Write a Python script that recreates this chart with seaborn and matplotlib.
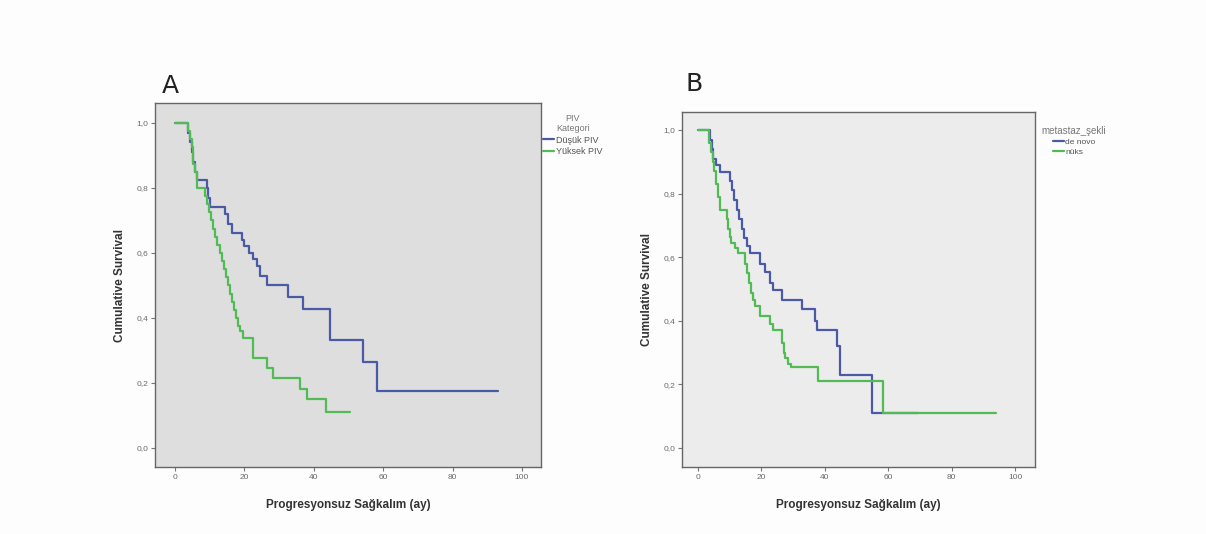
import numpy as np
import pandas as pd
import matplotlib
matplotlib.use("Agg")
import matplotlib.pyplot as plt
import seaborn as sns
from matplotlib.ticker import FuncFormatter

# ---------------- data ----------------
# Panel A: PIV Kategori
a_low_t = [0, 3.8, 4.3, 4.8, 5.3, 5.8, 6.3, 9.1, 9.6, 10.1, 14.4, 15.2, 16.5, 19.2, 20.0,
           21.3, 22.5, 23.5, 24.5, 26.4, 32.5, 37.0, 44.6, 54.3, 58.3, 93.2]
a_low_s = [1.0, 0.97, 0.94, 0.91, 0.88, 0.85, 0.825, 0.80, 0.77, 0.743, 0.72, 0.69, 0.66, 0.64, 0.62,
           0.60, 0.58, 0.56, 0.53, 0.50, 0.466, 0.427, 0.332, 0.266, 0.176, 0.176]
a_high_t = [0, 3.8, 4.3, 4.8, 5.3, 5.8, 6.3, 8.5, 9.2, 9.8, 10.4, 11.0, 11.6, 12.2, 12.8, 13.4,
            14.0, 14.6, 15.2, 15.8, 16.4, 17.0, 17.6, 18.2, 18.8, 19.6, 22.5, 26.4, 28.3, 36.0,
            37.9, 43.6, 50.3]
a_high_s = [1.0, 0.975, 0.95, 0.925, 0.875, 0.85, 0.80, 0.775, 0.75, 0.725, 0.70, 0.675, 0.65,
            0.625, 0.60, 0.575, 0.55, 0.525, 0.50, 0.475, 0.45, 0.425, 0.40, 0.375, 0.36, 0.337,
            0.277, 0.245, 0.214, 0.18, 0.15, 0.112, 0.112]

# Panel B: metastaz_şekli
b_denovo_t = [0, 3.8, 4.3, 4.8, 5.6, 6.9, 10.1, 10.8, 11.5, 12.2, 13.0, 13.8, 14.6, 15.5, 16.4,
              19.6, 21.1, 22.7, 23.7, 26.4, 32.7, 37.0, 37.4, 43.7, 44.8, 54.8, 69.5]
b_denovo_s = [1.0, 0.97, 0.94, 0.91, 0.89, 0.869, 0.84, 0.81, 0.78, 0.75, 0.72, 0.69, 0.66, 0.635,
              0.612, 0.58, 0.554, 0.52, 0.497, 0.465, 0.436, 0.40, 0.371, 0.32, 0.23, 0.111, 0.111]
b_nuks_t = [0, 3.6, 4.1, 4.6, 5.0, 5.6, 6.2, 6.8, 9.2, 9.6, 10.0, 10.5, 11.6, 12.6, 14.8, 15.4,
            16.0, 16.6, 17.3, 18.0, 19.6, 22.7, 23.7, 26.5, 27.0, 27.5, 28.5, 29.2, 37.9, 58.4, 94.0]
b_nuks_s = [1.0, 0.96, 0.93, 0.90, 0.87, 0.83, 0.79, 0.75, 0.72, 0.69, 0.665, 0.646, 0.63, 0.612,
            0.58, 0.55, 0.52, 0.487, 0.465, 0.445, 0.414, 0.39, 0.371, 0.33, 0.30, 0.283, 0.265,
            0.256, 0.211, 0.109, 0.109]

a_groups = ["Düşük PIV", "Yüksek PIV"]
b_groups = ["de novo", "nüks"]
a_legend_title = "PIV\nKategori"
b_legend_title = "metastaz_şekli"
x_label = "Progresyonsuz Sağkalım (ay)"
y_label = "Cumulative Survival"
x_ticks = [0, 20, 40, 60, 80, 100]
y_ticks = [0.0, 0.2, 0.4, 0.6, 0.8, 1.0]

# ---------------- styling ----------------
sns.set_theme(style="white")
plt.rcParams["font.family"] = ["Liberation Sans", "DejaVu Sans"]

BLUE = "#4a5aa6"
GREEN = "#52bb55"
TICK_GRAY = "#6a6a6a"

fig = plt.figure(figsize=(12.06, 5.34), dpi=100)
fig.patch.set_facecolor("#fdfdfd")

W, H = 1206.0, 534.0


def px_axes(left, top, right, bottom):
    return fig.add_axes([left / W, 1 - bottom / H, (right - left) / W, (bottom - top) / H])


def make_df(t1, s1, t2, s2, groups):
    return pd.DataFrame({
        "time": list(t1) + list(t2),
        "surv": list(s1) + list(s2),
        "group": [groups[0]] * len(t1) + [groups[1]] * len(t2),
    })


def style_axes(ax, face, xlim, ylim):
    ax.set_facecolor(face)
    ax.set_xlim(*xlim)
    ax.set_ylim(*ylim)
    ax.set_xticks(x_ticks)
    ax.set_yticks(y_ticks)
    ax.yaxis.set_major_formatter(FuncFormatter(lambda v, p: f"{v:.1f}".replace(".", ",")))
    ax.tick_params(axis="both", which="major", direction="out", length=3, width=0.8,
                   color="#777777", labelsize=6, labelcolor=TICK_GRAY, pad=2,
                   left=True, bottom=True)
    for sp in ax.spines.values():
        sp.set_color("#666666")
        sp.set_linewidth(1.0)
    ax.set_xlabel(x_label, fontsize=8.5, fontweight="bold", color="#333333", labelpad=13)
    ax.set_ylabel(y_label, fontsize=8.5, fontweight="bold", color="#333333", labelpad=7)


def style_legend(leg):
    for t in leg.get_texts():
        t.set_color("#555555")
    leg.get_title().set_color("#777777")
    leg.get_title().set_multialignment("center")


palette_a = {a_groups[0]: BLUE, a_groups[1]: GREEN}
palette_b = {b_groups[0]: BLUE, b_groups[1]: GREEN}

# Panel A
axA = px_axes(155, 103, 541, 467)
dfA = make_df(a_low_t, a_low_s, a_high_t, a_high_s, a_groups)
sns.lineplot(data=dfA, x="time", y="surv", hue="group", palette=palette_a,
             estimator=None, sort=False, drawstyle="steps-post", linewidth=1.6, ax=axA)
style_axes(axA, "#dedede", (-5.8, 105.5), (-0.0585, 1.0615))
legA = axA.legend(title=a_legend_title, loc="upper left", bbox_to_anchor=(0.995, 0.98),
                  frameon=False, fontsize=6.5, title_fontsize=6.5, handlelength=1.3,
                  handletextpad=0.2, borderaxespad=0, labelspacing=0.25)
style_legend(legA)
axA.text(0.018, 1.015, "A", transform=axA.transAxes, fontsize=18, color="#222222",
         ha="left", va="bottom", fontfamily="DejaVu Sans")

# Panel B
axB = px_axes(682, 112, 1035, 467)
dfB = make_df(b_denovo_t, b_denovo_s, b_nuks_t, b_nuks_s, b_groups)
sns.lineplot(data=dfB, x="time", y="surv", hue="group", palette=palette_b,
             estimator=None, sort=False, drawstyle="steps-post", linewidth=1.6, ax=axB)
style_axes(axB, "#ececec", (-5.05, 106.3), (-0.0597, 1.0566))
legB = axB.legend(title=b_legend_title, loc="upper left", bbox_to_anchor=(1.01, 0.97),
                  frameon=False, fontsize=6, title_fontsize=7, handlelength=1.3,
                  handletextpad=0.2, borderaxespad=0, labelspacing=0.25)
style_legend(legB)
axB.text(0.01, 1.045, "B", transform=axB.transAxes, fontsize=18, color="#222222",
         ha="left", va="bottom", fontfamily="DejaVu Sans")

fig.savefig("out.png", dpi=100, facecolor=fig.get_facecolor())
